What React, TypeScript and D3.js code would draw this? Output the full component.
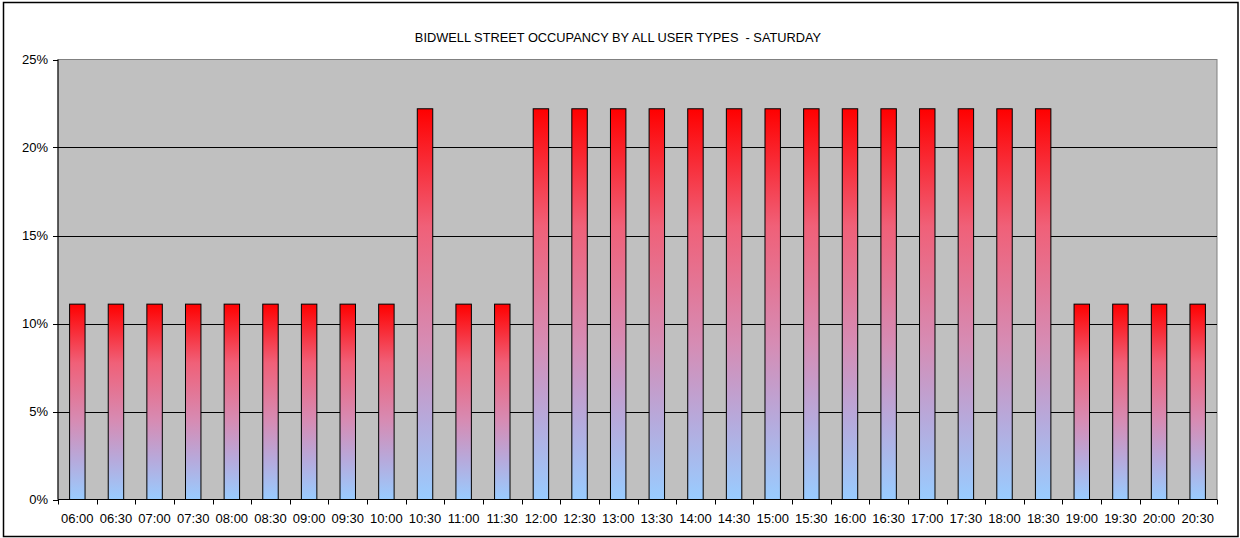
import React from "react";
import * as d3 from "d3";

const title = "BIDWELL STREET OCCUPANCY BY ALL USER TYPES  - SATURDAY";
const categories = ["06:00","06:30","07:00","07:30","08:00","08:30","09:00","09:30","10:00","10:30","11:00","11:30","12:00","12:30","13:00","13:30","14:00","14:30","15:00","15:30","16:00","16:30","17:00","17:30","18:00","18:30","19:00","19:30","20:00","20:30"];
const values = [0.111,0.111,0.111,0.111,0.111,0.111,0.111,0.111,0.111,0.222,0.111,0.111,0.222,0.222,0.222,0.222,0.222,0.222,0.222,0.222,0.222,0.222,0.222,0.222,0.222,0.222,0.111,0.111,0.111,0.111];
const yTicks = [0, 0.05, 0.1, 0.15, 0.2, 0.25];

export default function App() {
  const W = 1240, H = 538;
  const left = 58, right = 1217, top = 59.5, bottom = 499.5;
  const x = d3.scaleBand<string>().domain(categories).range([left, right]).paddingInner(0.6).paddingOuter(0.3);
  const xb = d3.scaleBand<string>().domain(categories).range([left, right]);
  const y = d3.scaleLinear().domain([0, 0.25]).range([bottom, top]);
  const font = "'Liberation Sans', Arial, sans-serif";
  return (
    <svg width={W} height={H} style={{ position: "absolute", left: 0, top: 0 }}>
      <defs>
        <linearGradient id="g" x1="0" y1="0" x2="0" y2="1">
          <stop offset="0" stopColor="#FF0000" />
          <stop offset="0.3" stopColor="#F06078" />
          <stop offset="0.6" stopColor="#D68CB4" />
          <stop offset="0.8" stopColor="#B6AADC" />
          <stop offset="1" stopColor="#99CCFF" />
        </linearGradient>
      </defs>
      <rect x={0} y={0} width={W} height={H} fill="#fff" />
      <rect x={3.5} y={2.5} width={1234.5} height={534} fill="none" stroke="#000" strokeWidth={1.5} />
      <text x={618} y={42} textAnchor="middle" fontFamily={font} fontSize={12.8} fill="#000" style={{ whiteSpace: "pre" }}>{title}</text>
      <rect x={left} y={top} width={right - left} height={bottom - top} fill="#C0C0C0" stroke="#808080" strokeWidth={1} />
      {yTicks.map((t) => (
        <g key={t}>
          {t > 0 && t < 0.25 && <line x1={left} x2={right} y1={Math.round(y(t)) + 0.5} y2={Math.round(y(t)) + 0.5} stroke="#000" strokeWidth={1} />}
          <line x1={left - 5} x2={left} y1={Math.round(y(t)) + 0.5} y2={Math.round(y(t)) + 0.5} stroke="#000" />
          <text x={48} y={y(t) + 4.5} textAnchor="end" fontFamily={font} fontSize={13} fill="#000">{d3.format(".0%")(t)}</text>
        </g>
      ))}
      <line x1={left} x2={left} y1={top} y2={bottom} stroke="#000" />
      {categories.map((c, i) => (
        <rect key={c} x={x(c)!} y={y(values[i])} width={x.bandwidth()} height={bottom - y(values[i])} fill="url(#g)" stroke="#000" strokeWidth={1} />
      ))}
      <line x1={left} x2={right} y1={bottom} y2={bottom} stroke="#000" />
      {categories.map((c, i) => (
        <g key={c}>
          <line x1={Math.round(xb(c)!) + 0.5} x2={Math.round(xb(c)!) + 0.5} y1={bottom} y2={bottom + 5} stroke="#000" />
          {i === categories.length - 1 && <line x1={right + 0.5} x2={right + 0.5} y1={bottom} y2={bottom + 5} stroke="#000" />}
          <text x={xb(c)! + xb.bandwidth() / 2} y={523} textAnchor="middle" fontFamily={font} fontSize={13} fill="#000">{c}</text>
        </g>
      ))}
    </svg>
  );
}
